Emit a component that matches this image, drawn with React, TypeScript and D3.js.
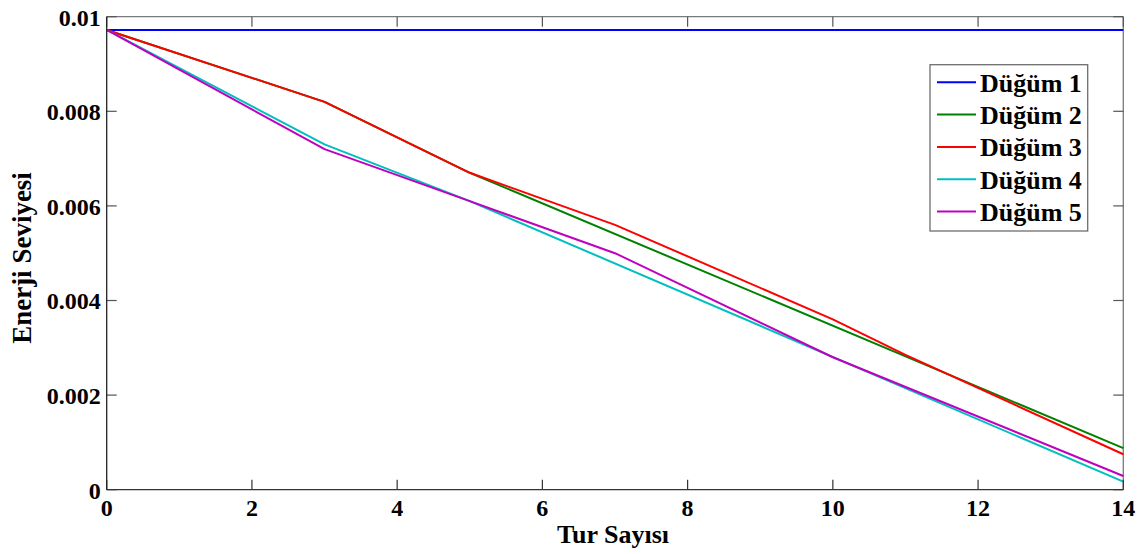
import React from "react";
import * as d3 from "d3";

// rounds (x) and energy levels (y) at each visible vertex, per node
const dugum1X = [0, 14];
const dugum1Y = [0.00972, 0.00972];
const dugum2X = [0, 3, 5, 14];
const dugum2Y = [0.00972, 0.0082, 0.0067, 0.00088];
const dugum3X = [0, 3, 5, 7, 10, 11, 14];
const dugum3Y = [0.00972, 0.0082, 0.0067, 0.0056, 0.0036, 0.00285, 0.00075];
const dugum4X = [0, 3, 5, 14];
const dugum4Y = [0.00972, 0.0073, 0.0061, 0.00017];
const dugum5X = [0, 3, 5, 7, 10, 14];
const dugum5Y = [0.00972, 0.0072, 0.0061, 0.005, 0.0028, 0.00029];

const seriesNames = ["Düğüm 1", "Düğüm 2", "Düğüm 3", "Düğüm 4", "Düğüm 5"];
const seriesColors = ["#0000ff", "#008000", "#ff0000", "#00bfbf", "#bf00bf"];

const xTicks = [0, 2, 4, 6, 8, 10, 12, 14];
const yTicks = [0, 0.002, 0.004, 0.006, 0.008, 0.01];

const width = 1146;
const height = 554;
const margin = {top: 16.7, right: 22.7, bottom: 64.3, left: 106.7};
const font = "'Liberation Serif', 'Times New Roman', serif";

export default function App() {
    const innerW = width - margin.left - margin.right;
    const innerH = height - margin.top - margin.bottom;

    const x = d3.scaleLinear().domain([0, 14]).range([0, innerW]);
    const y = d3.scaleLinear().domain([0, 0.01]).range([innerH, 0]);

    const line = d3.line<[number, number]>()
        .x(d => x(d[0]))
        .y(d => y(d[1]));

    const series = [
        [dugum1X, dugum1Y],
        [dugum2X, dugum2Y],
        [dugum3X, dugum3Y],
        [dugum4X, dugum4Y],
        [dugum5X, dugum5Y]
    ].map(([xs, ys]) => xs.map((v, i) => [v, ys[i]] as [number, number]));

    const fmtY = (v: number) => (v === 0 ? "0" : d3.format(".3~f")(v));

    // legend box
    const legX = 930 - margin.left;
    const legY = 64.7 - margin.top;
    const legW = 157.7;
    const legH = 166.3;
    const rowH = 32.3;

    return (
        <svg width={width} height={height}
             style={{position: "absolute", left: 0, top: 0, background: "#fff"}}>
            <g transform={"translate(" + margin.left + "," + margin.top + ")"}>
                {/* box: top and right in gray */}
                <line x1={0} x2={innerW} y1={0} y2={0} stroke="#7a7a7a" strokeWidth={1.3}/>
                <line x1={innerW} x2={innerW} y1={0} y2={innerH} stroke="#7a7a7a" strokeWidth={1.3}/>

                {/* data lines */}
                {series.map((pts, i) => (
                    <path key={i} d={line(pts) || ""} fill="none" stroke={seriesColors[i]}
                          strokeWidth={2} strokeLinejoin="round"/>
                ))}

                {/* x ticks */}
                {xTicks.map(t => (
                    <g key={"x" + t}>
                        <line x1={x(t)} x2={x(t)} y1={innerH} y2={innerH - 10} stroke="#333" strokeWidth={1.2}/>
                        <line x1={x(t)} x2={x(t)} y1={0} y2={10} stroke="#555" strokeWidth={1.2}/>
                        <text x={x(t)} y={innerH + 26} textAnchor="middle" fontFamily={font}
                              fontWeight="bold" fontSize={24}>{t}</text>
                    </g>
                ))}

                {/* y ticks */}
                {yTicks.map(t => (
                    <g key={"y" + t}>
                        <line x1={0} x2={10} y1={y(t)} y2={y(t)} stroke="#555" strokeWidth={1.2}/>
                        <line x1={innerW} x2={innerW - 10} y1={y(t)} y2={y(t)} stroke="#555" strokeWidth={1.2}/>
                        <text x={-6} y={y(t) + 9} textAnchor="end" fontFamily={font}
                              fontWeight="bold" fontSize={24}>{fmtY(t)}</text>
                    </g>
                ))}

                {/* left and bottom axes */}
                <line x1={0} x2={0} y1={0} y2={innerH} stroke="#222" strokeWidth={1.3}/>
                <line x1={0} x2={innerW} y1={innerH} y2={innerH} stroke="#333" strokeWidth={1.3}/>

                {/* legend */}
                <rect x={legX} y={legY} width={legW} height={legH} fill="#fff" stroke="#6e6e6e" strokeWidth={1.3}/>
                {seriesNames.map((name, i) => {
                    const ly = legY + 17.6 + i * rowH;
                    return (
                        <g key={name}>
                            <line x1={legX + 7} x2={legX + 46} y1={ly} y2={ly}
                                  stroke={seriesColors[i]} strokeWidth={2}/>
                            <text x={legX + 50} y={ly + 9.5} fontFamily={font} fontWeight="bold"
                                  fontSize={26}>{name}</text>
                        </g>
                    );
                })}
            </g>

            {/* axis titles */}
            <text x={613} y={543} textAnchor="middle" fontFamily={font} fontWeight="bold"
                  fontSize={26}>Tur Sayısı</text>
            <text transform="translate(31,258) rotate(-90)" textAnchor="middle" fontFamily={font}
                  fontWeight="bold" fontSize={27}>Enerji Seviyesi</text>
        </svg>
    );
}
